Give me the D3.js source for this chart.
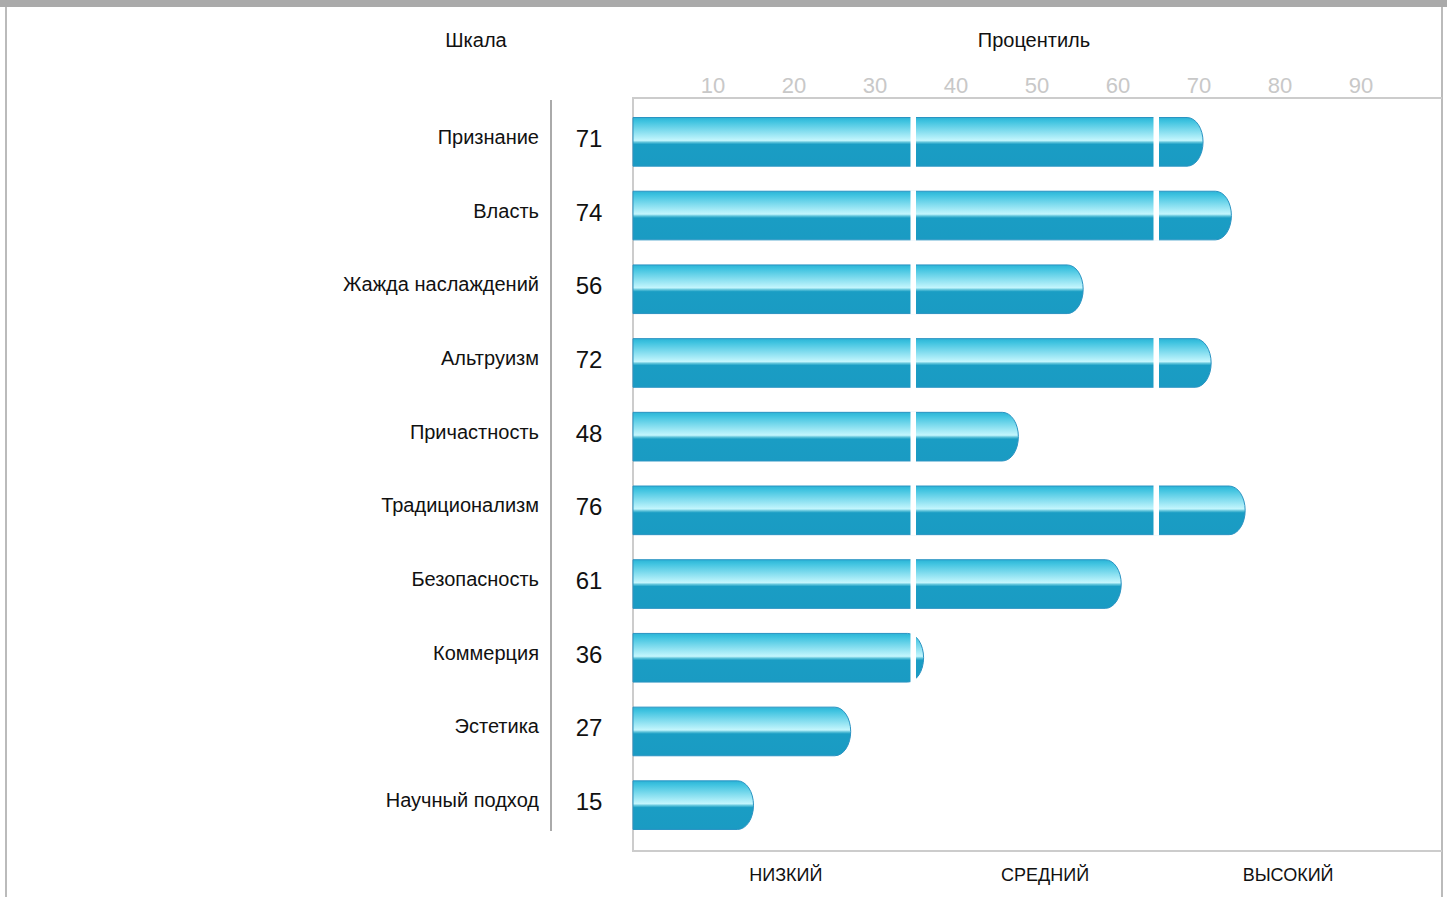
<!DOCTYPE html>
<html lang="ru">
<head>
    <meta charset="UTF-8">
    <title>Шкала / Процентиль</title>
    <script src="https://d3js.org/d3.v7.min.js"></script>
    <style>
        body { margin: 0; background: #fff; }
        svg { display: block; font-family: "Liberation Sans", Arial, sans-serif; }
    </style>
</head>
<body>
<script>
    // data
    var scales = ["Признание", "Власть", "Жажда наслаждений", "Альтруизм", "Причастность",
                  "Традиционализм", "Безопасность", "Коммерция", "Эстетика", "Научный подход"];
    var scores = [71, 74, 56, 72, 48, 76, 61, 36, 27, 15];
    var percentiles = [70.5, 74, 55.7, 71.5, 47.7, 75.7, 60.4, 36, 27, 15];
    var ticks = [10, 20, 30, 40, 50, 60, 70, 80, 90];
    var levels = ["НИЗКИЙ", "СРЕДНИЙ", "ВЫСОКИЙ"];
    var levelPos = [19, 51, 81];
    var cuts = [35, 65];

    var W = 1447, H = 897;
    var svg = d3.select("body").append("svg")
        .attr("width", W)
        .attr("height", H);

    var defs = svg.append("defs");
    var grad = defs.append("linearGradient")
        .attr("id", "shine")
        .attr("x1", 0).attr("y1", 0).attr("x2", 0).attr("y2", 1);
    grad.append("stop").attr("offset", "0%").attr("stop-color", "#2bb4d6");
    grad.append("stop").attr("offset", "8%").attr("stop-color", "#3fc3e0");
    grad.append("stop").attr("offset", "47%").attr("stop-color", "#c4f6fd");
    grad.append("stop").attr("offset", "51%").attr("stop-color", "#5ec3da");
    grad.append("stop").attr("offset", "55%").attr("stop-color", "#1a9dc4");
    grad.append("stop").attr("offset", "100%").attr("stop-color", "#1a9bc3");

    // frame
    svg.append("rect").attr("x", 0).attr("y", 0).attr("width", W).attr("height", 7).attr("fill", "#aaaaaa");
    svg.append("line").attr("x1", 6).attr("x2", 6).attr("y1", 7).attr("y2", H)
        .attr("stroke", "#bbb").attr("stroke-width", 2);
    svg.append("line").attr("x1", 1442).attr("x2", 1442).attr("y1", 7).attr("y2", H)
        .attr("stroke", "#bbb").attr("stroke-width", 2);

    var x = d3.scaleLinear().domain([0, 100]).range([632, 1442]);
    var y = d3.scaleBand().domain(scales).range([105, 842]).paddingInner(0.34).paddingOuter(0.17);

    // plot box
    var box = svg.append("g").attr("fill", "none").attr("stroke", "#cccccc").attr("stroke-width", 2);
    box.append("line").attr("x1", 633).attr("x2", 1442).attr("y1", 98).attr("y2", 98);
    box.append("line").attr("x1", 633).attr("x2", 633).attr("y1", 97).attr("y2", 851);
    box.append("line").attr("x1", 632).attr("x2", 1442).attr("y1", 851).attr("y2", 851);

    // headers
    svg.append("text").attr("x", 476).attr("y", 47).attr("text-anchor", "middle")
        .attr("font-size", 20).attr("fill", "#111").text("Шкала");
    svg.append("text").attr("x", 1034).attr("y", 47).attr("text-anchor", "middle")
        .attr("font-size", 20).attr("fill", "#111").text("Процентиль");

    // top tick labels
    svg.selectAll("text.tick")
        .data(ticks)
        .enter()
        .append("text")
        .attr("class", "tick")
        .attr("x", function(d) { return x(d); })
        .attr("y", 93)
        .attr("text-anchor", "middle")
        .attr("font-size", 22)
        .attr("fill", "#c8c8c8")
        .text(function(d) { return d; });

    // separator
    svg.append("line").attr("x1", 551).attr("x2", 551).attr("y1", 100).attr("y2", 831)
        .attr("stroke", "#aaa").attr("stroke-width", 2);

    // row labels
    svg.selectAll("text.name")
        .data(scales)
        .enter()
        .append("text")
        .attr("class", "name")
        .attr("x", 539)
        .attr("y", function(d) { return y(d) + y.bandwidth() / 2 + 2; })
        .attr("text-anchor", "end")
        .attr("font-size", 20)
        .attr("fill", "#111")
        .text(function(d) { return d; });

    svg.selectAll("text.score")
        .data(scores)
        .enter()
        .append("text")
        .attr("class", "score")
        .attr("x", 589)
        .attr("y", function(d, i) { return y(scales[i]) + y.bandwidth() / 2 + 5; })
        .attr("text-anchor", "middle")
        .attr("font-size", 24)
        .attr("fill", "#111")
        .text(function(d) { return d; });

    // bars with rounded right end
    var bh = y.bandwidth();
    var rx = 16;
    function barPath(v, i) {
        var x0 = x(0) + 1, x1 = x(v), top = y(scales[i]), bot = top + bh;
        var r = Math.min(rx, x1 - x0);
        return "M" + x0 + "," + top +
            "H" + (x1 - r) +
            "A" + r + "," + (bh / 2) + " 0 0 1 " + x1 + "," + (top + bh / 2) +
            "A" + r + "," + (bh / 2) + " 0 0 1 " + (x1 - r) + "," + bot +
            "H" + x0 + "Z";
    }

    svg.selectAll("path.bar")
        .data(percentiles)
        .enter()
        .append("path")
        .attr("class", "bar")
        .attr("d", barPath)
        .attr("fill", "url(#shine)")
        .attr("stroke", "#2a93c2")
        .attr("stroke-width", 1);

    // white gaps at level boundaries
    percentiles.forEach(function(v, i) {
        cuts.forEach(function(c) {
            if (v > c) {
                svg.append("rect")
                    .attr("x", x(c) - 5)
                    .attr("y", y(scales[i]) - 1)
                    .attr("width", 5.5)
                    .attr("height", bh + 2)
                    .attr("fill", "#fff");
            }
        });
    });

    // level labels
    svg.selectAll("text.level")
        .data(levels)
        .enter()
        .append("text")
        .attr("class", "level")
        .attr("x", function(d, i) { return x(levelPos[i]); })
        .attr("y", 881)
        .attr("text-anchor", "middle")
        .attr("font-size", 18)
        .attr("fill", "#111")
        .text(function(d) { return d; });
</script>
</body>
</html>
